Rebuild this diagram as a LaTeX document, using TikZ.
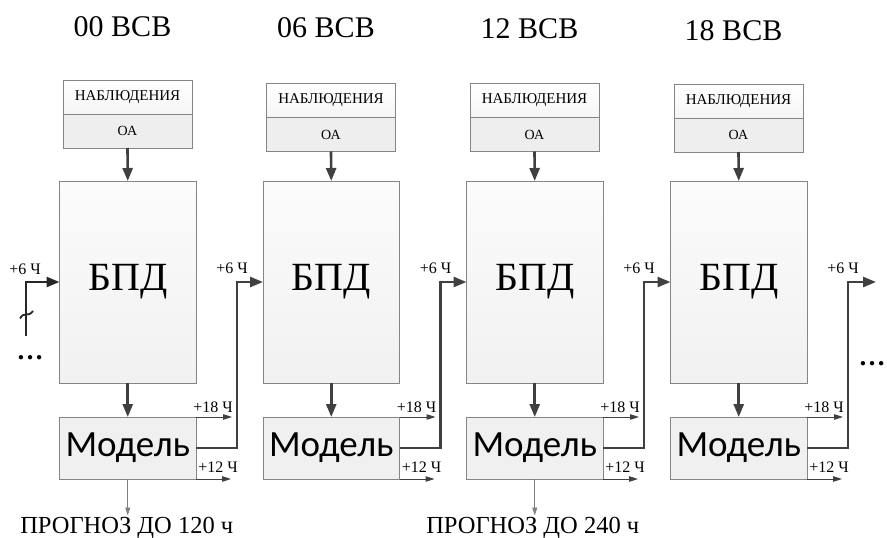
\documentclass[tikz,border=0pt]{standalone}
\usepackage{fontspec}
\setmainfont{Liberation Serif}
\newfontfamily\modelfont{Carlito}
\usetikzlibrary{arrows.meta,calc}

\definecolor{boxgray}{HTML}{858585}
\definecolor{linegray}{HTML}{404040}

\begin{document}
\begin{tikzpicture}[x=1pt,y=-1pt,
  box/.style={draw=boxgray, line width=0.8pt, inner sep=0pt, outer sep=0pt},
  bigarrow/.style={draw=linegray, line width=2.6pt, -{Triangle[length=13pt,width=10pt]}},
  smallarrow/.style={draw=linegray, line width=1pt, -{Triangle[length=9pt,width=5.5pt]}},
  thinarrow/.style={draw=gray, line width=0.9pt, -{Triangle[length=8pt,width=5pt]}},
  lbl/.style={font=\fontsize{16}{16}\selectfont, inner sep=0pt, anchor=base},
  title/.style={font=\fontsize{30}{30}\selectfont, inner sep=0pt, anchor=base},
  dots/.style={font=\bfseries\fontsize{27}{27}\selectfont, inner sep=0pt, anchor=base},
]
\useasboundingbox (0,0) rectangle (887,538);

% four assimilation cycles: left edge, top of observation block, title baseline, time
\foreach \i/\L/\oy/\tb/\t in {1/59.5/80/36/00, 2/263/83.5/37/06, 3/466.5/83.5/38/12, 4/670.5/84/40/18}{
  \node[title] (t\i) at (\L+63,\tb) {\t\ ВСВ};
  % observations
  \node[box, minimum width=129pt, minimum height=34pt,
        top color=white, bottom color=gray!8,
        font=\fontsize{15}{15}\selectfont] (obs\i) at (\L+68,\oy+17) {НАБЛЮДЕНИЯ};
  \node[box, minimum width=129pt, minimum height=34pt,
        fill=gray!13,
        font=\fontsize{14}{14}\selectfont] (oa\i) at (\L+68,\oy+51) {ОА};
  % data assimilation block
  \node[box, minimum width=136.5pt, minimum height=202pt,
        top color=gray!3, bottom color=gray!11,
        font=\fontsize{40}{40}\selectfont] (bpd\i) at (\L+68.25,282) {БПД};
  % model
  \node[box, minimum width=136.5pt, minimum height=62pt,
        fill=gray!12,
        font=\modelfont\fontsize{37}{37}\selectfont] (mod\i) at (\L+68.25,448) {Модель};
  \draw[bigarrow] (oa\i.south) -- (bpd\i.north);
  \draw[bigarrow] (bpd\i.south) -- (mod\i.north);
  % outputs of the model
  \coordinate (e18\i) at ($(mod\i.north east)+(36,0)$);
  \coordinate (e12\i) at ($(mod\i.south east)+(35,0)$);
  \coordinate (fb\i) at ($(mod\i.east)+(41,0)$);
  \draw[smallarrow] (mod\i.north east) -- (e18\i);
  \draw[smallarrow] (mod\i.south east) -- (e12\i);
  \node[lbl] (l18\i) at ($(mod\i.north east)+(17,-5)$) {+18 Ч};
  \node[lbl] (l12\i) at ($(mod\i.south east)+(22,-7)$) {+12 Ч};
  \node[lbl] (l6\i) at ($(mod\i.east)+(36,-175)$) {+6 Ч};
}

% first-guess links between cycles
\coordinate (out) at (876,282);
\draw[bigarrow] (mod1.east) -- (fb1) |- (bpd2.west);
\draw[bigarrow] (mod2.east) -- (fb2) |- (bpd3.west);
\draw[bigarrow] (mod3.east) -- (fb3) |- (bpd4.west);
\draw[bigarrow] (mod4.east) -- (fb4) |- (out);

% incoming first guess of the first cycle
\coordinate (s0) at (26,336);
\draw[bigarrow, draw=black!85] (s0) |- (bpd1.west);
\draw[black!85, line width=1.8pt] (20,318.5) .. controls (24,311) and (28,318) .. (33,311);
\node[lbl] (l60) at (25,274) {+6 Ч};
\node[dots] (dl) at (30,359) {…};
\node[dots] (dr) at (872,365) {…};

% forecasts
\node[font=\fontsize{24.5}{24.5}\selectfont, inner sep=1pt, anchor=base] (fc1) at ($(mod1.south)+(-1,54)$) {ПРОГНОЗ ДО 120 ч};
\node[font=\fontsize{24.5}{24.5}\selectfont, inner sep=1pt, anchor=base] (fc3) at ($(mod3.south)+(-2,54)$) {ПРОГНОЗ ДО 240 ч};
\draw[thinarrow] (mod1.south) -- (mod1.south |- fc1.north);
\draw[thinarrow] (mod3.south) -- (mod3.south |- fc3.north);
\end{tikzpicture}
\end{document}
